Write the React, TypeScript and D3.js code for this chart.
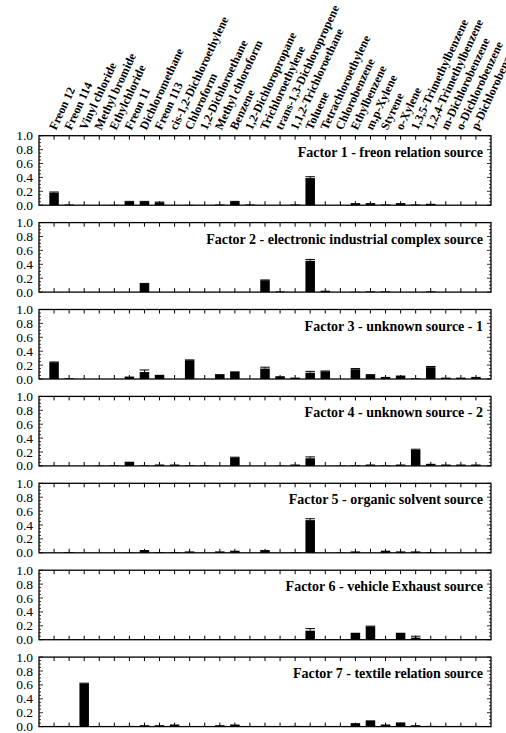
import React from "react";
import * as d3 from "d3";

const categories = [
  "Freon 12", "Freon 114", "Vinyl chloride", "Methyl bromide", "Ethylchloride",
  "Freon 11", "Dichloromethane", "Freon 113", "cis-1,2-Dichloroethylene", "Chloroform",
  "1,2-Dichloroethane", "Methyl chloroform", "Benzene", "1,2-Dichloropropane",
  "Trichloroethylene", "trans-1,3-Dichloropropene", "1,1,2-Trichloroethane", "Toluene",
  "Tetrachloroethylene", "Chlorobenzene", "Ethylbenzene", "m,p-Xylene", "Styrene",
  "o-Xylene", "1,3,5-Trimethylbenzene", "1,2,4-Trimethylbenzene", "m-Dichlorobenzene",
  "o-Dichlorobenzene", "p-Dichlorobenzene",
];

const factorTitles = [
  "Factor 1 - freon relation source",
  "Factor 2 - electronic industrial complex source",
  "Factor 3 - unknown source - 1",
  "Factor 4 - unknown source - 2",
  "Factor 5 - organic solvent source",
  "Factor 6 - vehicle Exhaust source",
  "Factor 7 - textile relation source",
];

const factor1 = [0.18, 0.01, 0, 0, 0.005, 0.05, 0.05, 0.04, 0, 0.005, 0, 0.01, 0.05, 0.01, 0, 0, 0.01, 0.39, 0, 0, 0.03, 0.03, 0.01, 0.03, 0.01, 0.02, 0, 0, 0];
const factor2 = [0, 0, 0, 0, 0, 0, 0.12, 0, 0, 0, 0, 0, 0, 0, 0.17, 0.01, 0, 0.45, 0.02, 0, 0.005, 0.01, 0.01, 0, 0, 0.01, 0, 0, 0];
const factor3 = [0.24, 0.01, 0, 0, 0, 0.035, 0.1, 0.06, 0, 0.27, 0, 0.07, 0.11, 0, 0.15, 0.04, 0.02, 0.09, 0.11, 0, 0.14, 0.07, 0.03, 0.05, 0.01, 0.17, 0.02, 0.02, 0.03];
const factor4 = [0, 0, 0, 0.005, 0.01, 0.06, 0.01, 0.02, 0.02, 0.01, 0.01, 0, 0.12, 0, 0, 0.005, 0.02, 0.11, 0, 0.005, 0.01, 0.02, 0.01, 0.02, 0.23, 0.03, 0.02, 0.02, 0.02];
const factor5 = [0, 0.01, 0, 0, 0, 0.005, 0.04, 0.01, 0.01, 0.02, 0, 0.02, 0.03, 0, 0.04, 0, 0.01, 0.47, 0, 0.005, 0.02, 0, 0.03, 0.02, 0.02, 0.01, 0, 0, 0];
const factor6 = [0, 0, 0, 0, 0, 0, 0, 0, 0, 0, 0, 0.005, 0.005, 0, 0, 0, 0.01, 0.13, 0, 0, 0.1, 0.19, 0, 0.1, 0.03, 0.01, 0, 0, 0];
const factor7 = [0.005, 0.005, 0.62, 0.005, 0.005, 0.01, 0.02, 0.02, 0.03, 0.005, 0.005, 0.02, 0.03, 0.005, 0, 0, 0.01, 0.005, 0, 0, 0.05, 0.09, 0.03, 0.06, 0.02, 0.01, 0, 0, 0];

// error bar heights (upper side only, as printed)
const factor1Err = [0.01, 0, 0, 0, 0, 0.005, 0.005, 0.005, 0, 0, 0, 0, 0.005, 0, 0, 0, 0, 0.02, 0, 0, 0, 0, 0, 0, 0, 0, 0, 0, 0];
const factor2Err = [0, 0, 0, 0, 0, 0, 0.005, 0, 0, 0, 0, 0, 0, 0, 0.005, 0, 0, 0.02, 0, 0, 0, 0, 0, 0, 0, 0, 0, 0, 0];
const factor3Err = [0.005, 0, 0, 0, 0, 0, 0.03, 0, 0, 0.005, 0, 0, 0, 0, 0.02, 0, 0, 0.02, 0.005, 0, 0.01, 0, 0, 0, 0, 0.01, 0, 0, 0];
const factor4Err = [0, 0, 0, 0, 0, 0, 0, 0, 0, 0, 0, 0, 0.005, 0, 0, 0, 0, 0.02, 0, 0, 0, 0, 0, 0, 0.01, 0, 0, 0, 0];
const factor5Err = [0, 0, 0, 0, 0, 0, 0, 0, 0, 0, 0, 0, 0, 0, 0, 0, 0, 0.02, 0, 0, 0, 0, 0, 0, 0, 0, 0, 0, 0];
const factor6Err = [0, 0, 0, 0, 0, 0, 0, 0, 0, 0, 0, 0, 0, 0, 0, 0, 0, 0.03, 0, 0, 0, 0.005, 0, 0, 0.02, 0, 0, 0, 0];
const factor7Err = [0, 0, 0.005, 0, 0, 0, 0, 0, 0, 0, 0, 0, 0, 0, 0, 0, 0, 0, 0, 0, 0, 0, 0, 0, 0, 0, 0, 0, 0];

const yTicks = [0, 0.2, 0.4, 0.6, 0.8, 1.0];

const factors = [factor1, factor2, factor3, factor4, factor5, factor6, factor7];
const errors = [factor1Err, factor2Err, factor3Err, factor4Err, factor5Err, factor6Err, factor7Err];

const width = 506;
const height = 733;
const left = 39;
const right = 491;
const firstTop = 135.7;
const panelStep = 86.9;
const panelH = 69.5;
const barW = 9.5;
const serif = "'Liberation Serif', 'Times New Roman', serif";

const x = d3.scaleLinear().domain([0, categories.length + 1]).range([left, right]);
const minorTicks = d3.range(0, 1.0001, 0.05);

const Panel: React.FC<{ idx: number }> = ({ idx }) => {
  const top = firstTop + idx * panelStep;
  const y = d3.scaleLinear().domain([0, 1]).range([top + panelH, top]);
  const values = factors[idx];
  const errs = errors[idx];
  return (
    <g>
      {/* inward category ticks, top and bottom */}
      {categories.map((c, i) => (
        <g key={c}>
          <line x1={x(i + 1)} x2={x(i + 1)} y1={y(1)} y2={y(1) + 4} stroke="#000" strokeWidth={1} />
          <line x1={x(i + 1)} x2={x(i + 1)} y1={y(0)} y2={y(0) - 4} stroke="#000" strokeWidth={1} />
        </g>
      ))}
      {/* y ticks, left and right */}
      {minorTicks.map((t, k) => {
        const major = k % 4 === 0;
        const len = major ? 4 : 2;
        return (
          <g key={k}>
            <line x1={left} x2={left + len} y1={y(t)} y2={y(t)} stroke="#000" strokeWidth={0.8} />
            <line x1={right} x2={right - len} y1={y(t)} y2={y(t)} stroke="#000" strokeWidth={0.8} />
          </g>
        );
      })}
      {yTicks.map((t) => (
        <text
          key={t}
          x={33}
          y={y(t)}
          dy="0.34em"
          textAnchor="end"
          fontFamily={serif}
          fontSize={13.5}
          fill="#000"
        >
          {d3.format(".1f")(t)}
        </text>
      ))}
      {/* bars with error caps */}
      {values.map((v, i) => {
        const cx = x(i + 1);
        const e = errs[i];
        return (
          <g key={i}>
            {v > 0 && (
              <rect x={cx - barW / 2} y={y(v)} width={barW} height={y(0) - y(v)} fill="#000" />
            )}
            {e > 0 && (
              <g stroke="#000" strokeWidth={1}>
                <line x1={cx} x2={cx} y1={y(v)} y2={y(v + e)} />
                <line x1={cx - barW / 2} x2={cx + barW / 2} y1={y(v + e)} y2={y(v + e)} />
              </g>
            )}
          </g>
        );
      })}
      <rect x={left} y={y(1)} width={right - left} height={panelH} fill="none" stroke="#000" strokeWidth={1.3} />
      <text
        x={483}
        y={top + 21}
        textAnchor="end"
        fontFamily={serif}
        fontWeight="bold"
        fontSize={14}
        fill="#000"
      >
        {factorTitles[idx]}
      </text>
    </g>
  );
};

export default function App() {
  return (
    <svg
      width={width}
      height={height}
      style={{ position: "absolute", left: 0, top: 0, background: "#fff" }}
    >
      <rect width={width} height={height} fill="#fff" />
      {categories.map((c, i) => (
        <text
          key={c}
          transform={`translate(${x(i + 1) + 2},${firstTop - 5}) rotate(-65)`}
          fontFamily={serif}
          fontWeight="bold"
          fontSize={12}
          fill="#000"
        >
          {c}
        </text>
      ))}
      {factorTitles.map((t, i) => (
        <Panel key={t} idx={i} />
      ))}
    </svg>
  );
}
